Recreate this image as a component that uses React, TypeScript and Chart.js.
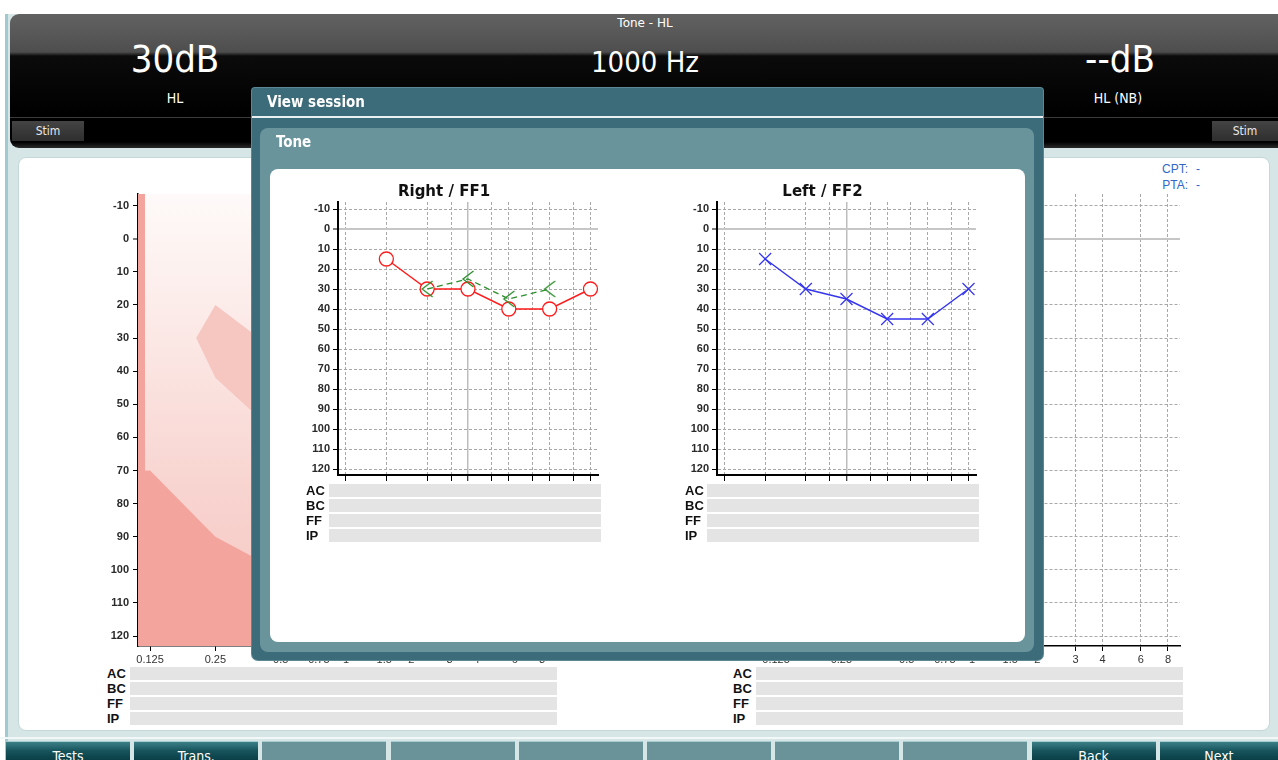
import React, { useEffect, useRef } from "react";
import { Chart, registerables } from "chart.js";
Chart.register(...registerables);

// ---------- data ----------
const FREQS = [125, 250, 500, 750, 1000, 1500, 2000, 3000, 4000, 6000, 8000];
const FREQ_LABELS = ["0.125", "0.25", "0.5", "0.75", "1", "1.5", "2", "3", "4", "6", "8"];
const DB_TICKS = [-10, 0, 10, 20, 30, 40, 50, 60, 70, 80, 90, 100, 110, 120];
const X_MIN = 110;
const X_MAX = 9091;
const Y_MIN = -13.5;
const Y_MAX = 123;

const RIGHT_FF1_FREQS = [250, 500, 1000, 2000, 4000, 8000];
const RIGHT_FF1_DB = [15, 30, 30, 40, 40, 30];
const RIGHT_AIDED_FREQS = [500, 1000, 2000, 4000];
const RIGHT_AIDED_DB = [30, 25, 35, 30];
const LEFT_FF2_FREQS = [250, 500, 1000, 2000, 4000, 8000];
const LEFT_FF2_DB = [15, 30, 35, 45, 45, 30];

const SEVERE_FREQS = [110, 118.5, 118.5, 125, 250, 370, 500, 1000, 2000, 4000, 8000, 9091];
const SEVERE_DB = [-13.5, -13.5, 70, 70, 90, 96, 100, 105, 105, 105, 105, 105];
const BANANA_FREQS = [204, 250, 500, 1000, 2000, 4000, 6000, 6000, 4000, 2000, 1000, 500, 250, 204];
const BANANA_DB = [30, 20, 35, 45, 50, 50, 45, 60, 70, 75, 70, 60, 42, 30];
const SHADE_FREQS = [110, 9091];
const SHADE_DB = [-13.5, -13.5];

const ROW_LABELS = ["AC", "BC", "FF", "IP"];
const BOTTOM_BUTTONS = ["Tests", "Trans.", "", "", "", "", "", "", "Back", "Next"];

// ---------- helpers ----------
const pts = (xs: number[], ys: number[]) => xs.map((x, i) => ({ x, y: ys[i] }));
const UI = '"DejaVu Sans", sans-serif';
const TICK_FONT = { family: '"Liberation Sans", Arial, sans-serif', size: 11, weight: "bold" };

function makeLessThan(color: string) {
  const c = document.createElement("canvas");
  c.width = 14;
  c.height = 18;
  const g = c.getContext("2d")!;
  g.strokeStyle = color;
  g.lineWidth = 1.3;
  g.beginPath();
  g.moveTo(12.5, 1);
  g.lineTo(2, 9);
  g.lineTo(12.5, 17);
  g.stroke();
  return c;
}

function buildScales(o: { xLabels: boolean; yWidth: number; xHeight: number; axisWidth: number; xTickLen: number; yPad: number; z: number }) {
  return {
    x: {
      type: "logarithmic",
      min: X_MIN,
      max: X_MAX,
      z: o.z,
      afterBuildTicks: (s: any) => {
        s.ticks = FREQS.map((v) => ({ value: v }));
      },
      afterFit: (s: any) => {
        s.height = o.xHeight;
      },
      ticks: {
        display: o.xLabels,
        autoSkip: false,
        maxRotation: 0,
        padding: 2,
        color: "#333",
        font: { family: '"Liberation Sans", Arial, sans-serif', size: 11 },
        callback: (_v: any, i: number) => FREQ_LABELS[i],
      },
      grid: {
        color: (c: any) => (c.tick && c.tick.value === 1000 ? "#bdbdbd" : "#a8a8a8"),
        lineWidth: (c: any) => (c.tick && c.tick.value === 1000 ? 1.5 : 1),
        tickColor: "#000",
        tickLength: o.xTickLen,
        tickWidth: 1,
        tickBorderDash: [],
      },
      border: {
        color: "#000",
        width: o.axisWidth,
        dash: (c: any) => (c.tick && c.tick.value === 1000 ? [] : [3, 2]),
      },
    },
    y: {
      type: "linear",
      reverse: true,
      min: Y_MIN,
      max: Y_MAX,
      z: o.z,
      afterBuildTicks: (s: any) => {
        s.ticks = DB_TICKS.map((v) => ({ value: v }));
      },
      afterFit: (s: any) => {
        s.width = o.yWidth;
      },
      ticks: {
        padding: o.yPad,
        color: "#2a2a2a",
        font: TICK_FONT,
        callback: (v: any) => String(v),
      },
      grid: {
        color: (c: any) => (c.tick && c.tick.value === 0 ? "#c6c6c6" : "#a8a8a8"),
        lineWidth: (c: any) => (c.tick && c.tick.value === 0 ? 2 : 1),
        tickColor: "#000",
        tickLength: 5,
        tickWidth: 1,
        tickBorderDash: [],
      },
      border: {
        color: "#000",
        width: o.axisWidth,
        dash: (c: any) => (c.tick && c.tick.value === 0 ? [] : [3, 2]),
      },
    },
  };
}

const baseOptions = {
  responsive: false,
  animation: false,
  devicePixelRatio: 1,
  events: [],
};

function modalConfig(title: string, datasets: any[], rightPad: number) {
  return {
    type: "line",
    data: { datasets },
    options: {
      ...baseOptions,
      layout: { padding: { left: 0, right: rightPad, top: 0, bottom: 0 } },
      elements: { line: { tension: 0 } },
      plugins: {
        legend: { display: false },
        tooltip: { enabled: false },
        title: {
          display: true,
          text: title,
          color: "#111",
          font: { family: "DejaVu Sans", size: 15, weight: "bold" },
          padding: { top: 6, bottom: 1 },
        },
      },
      scales: buildScales({ xLabels: false, yWidth: 48, xHeight: 10, axisWidth: 2, xTickLen: 6, yPad: 3, z: 0 }),
    },
  };
}

function backgroundConfig(datasets: any[]) {
  return {
    type: "line",
    data: { datasets },
    options: {
      ...baseOptions,
      layout: { padding: { left: 0, right: 14, top: 12, bottom: 0 } },
      elements: { line: { tension: 0 } },
      plugins: { legend: { display: false }, tooltip: { enabled: false }, title: { display: false } },
      scales: buildScales({ xLabels: true, yWidth: 50, xHeight: 20, axisWidth: 1.5, xTickLen: 5, yPad: 4, z: 1 }),
    },
  };
}

function rightEarDatasets() {
  return [
    {
      data: pts(RIGHT_AIDED_FREQS, RIGHT_AIDED_DB),
      borderColor: "#2b8f2b",
      borderWidth: 1.3,
      borderDash: [6, 4],
      pointStyle: makeLessThan("#2b8f2b"),
      pointRadius: 8,
      fill: false,
      clip: false,
    },
    {
      data: pts(RIGHT_FF1_FREQS, RIGHT_FF1_DB),
      borderColor: "#ff1a1a",
      borderWidth: 1.4,
      pointStyle: "circle",
      pointRadius: 7,
      pointBorderWidth: 1.3,
      pointBorderColor: "#ff1a1a",
      pointBackgroundColor: "#ffffff",
      fill: false,
      clip: false,
    },
  ];
}

function leftEarDatasets() {
  return [
    {
      data: pts(LEFT_FF2_FREQS, LEFT_FF2_DB),
      borderColor: "#3535ee",
      borderWidth: 1.4,
      pointStyle: "crossRot",
      pointRadius: 8.5,
      pointBorderWidth: 1.2,
      pointBorderColor: "#3535ee",
      fill: false,
      clip: false,
    },
  ];
}

function shadingDatasets() {
  return [
    {
      data: pts(SEVERE_FREQS, SEVERE_DB),
      borderWidth: 0,
      pointRadius: 0,
      backgroundColor: "#f3a59d",
      fill: "start",
    },
    {
      data: pts(BANANA_FREQS, BANANA_DB),
      borderWidth: 0,
      pointRadius: 0,
      backgroundColor: "#f6c6c1",
      fill: "shape",
    },
    {
      data: pts(SHADE_FREQS, SHADE_DB),
      borderWidth: 0,
      pointRadius: 0,
      fill: "start",
      backgroundColor: (ctx: any) => {
        const a = ctx.chart.chartArea;
        if (!a) return "#fae4e1";
        const g = ctx.chart.ctx.createLinearGradient(0, a.top, 0, a.bottom);
        g.addColorStop(0, "#fefaf9");
        g.addColorStop(0.35, "#fbe6e3");
        g.addColorStop(0.65, "#f8d4d0");
        g.addColorStop(1, "#f5c6c1");
        return g;
      },
    },
  ];
}

function ChartBox(props: { left: number; top: number; width: number; height: number; make: () => any }) {
  const ref = useRef<HTMLCanvasElement | null>(null);
  useEffect(() => {
    const chart = new Chart(ref.current as HTMLCanvasElement, props.make());
    return () => chart.destroy();
  }, []);
  return (
    <div style={{ position: "absolute", left: props.left, top: props.top, width: props.width, height: props.height }}>
      <canvas ref={ref} width={props.width} height={props.height} style={{ display: "block", width: props.width, height: props.height }} />
    </div>
  );
}

function Rows(props: { labelLeft: number; barLeft: number; barRight: number; top: number; pitch: number; barH: number }) {
  return (
    <>
      {ROW_LABELS.map((l, i) => (
        <React.Fragment key={l}>
          <div
            style={{
              position: "absolute",
              left: props.labelLeft,
              top: props.top + i * props.pitch - 1,
              height: props.barH + 2,
              lineHeight: props.barH + 2 + "px",
              fontFamily: '"Liberation Sans", Arial, sans-serif',
              fontWeight: "bold",
              fontSize: 13,
              color: "#111",
            }}
          >
            {l}
          </div>
          <div
            style={{
              position: "absolute",
              left: props.barLeft,
              top: props.top + i * props.pitch,
              width: props.barRight - props.barLeft,
              height: props.barH,
              background: "#e4e4e4",
            }}
          />
        </React.Fragment>
      ))}
    </>
  );
}

const abs = (o: any) => ({ position: "absolute" as const, ...o });
const COND = '"Liberation Sans Narrow", "DejaVu Sans Condensed", sans-serif';

export default function App() {
  return (
    <div style={{ position: "fixed", left: 0, top: 0, width: 1278, height: 760, overflow: "hidden", background: "#fff", fontFamily: UI }}>
      {/* application background */}
      <div style={abs({ left: 5, top: 14, width: 1273, height: 746, background: "#d6e6e7", borderLeft: "3px solid #9fcbd0" })} />
      {/* header */}
      <div
        style={abs({
          left: 10,
          top: 14,
          width: 1268,
          height: 134,
          borderRadius: "9px 0 0 9px",
          background: "linear-gradient(180deg, #626262 0px, #4e4e4e 38px, #0b0b0b 42px, #000 100px, #000 128px, #2a2a2a 134px)",
        })}
      />
      <div style={abs({ left: 10, top: 117, width: 1268, height: 1, background: "#3a3a3a" })} />
      <div style={abs({ left: 560, top: 16, width: 170, textAlign: "center", color: "#fff", fontSize: 12 })}>Tone - HL</div>
      <div style={abs({ left: 75, top: 36, width: 200, textAlign: "center", color: "#fff", fontSize: 38, fontFamily: COND, lineHeight: "46px" })}>30dB</div>
      <div style={abs({ left: 525, top: 43, width: 240, textAlign: "center", color: "#fff", fontSize: 29, fontFamily: COND, lineHeight: "38px" })}>1000 Hz</div>
      <div style={abs({ left: 1020, top: 36, width: 200, textAlign: "center", color: "#fff", fontSize: 38, fontFamily: COND, lineHeight: "46px" })}>--dB</div>
      <div style={abs({ left: 125, top: 90, width: 100, textAlign: "center", color: "#fff", fontSize: 14, fontFamily: '"DejaVu Sans Condensed", sans-serif' })}>HL</div>
      <div style={abs({ left: 1060, top: 90, width: 116, textAlign: "center", color: "#fff", fontSize: 14, fontFamily: '"DejaVu Sans Condensed", sans-serif' })}>HL (NB)</div>
      <div style={abs({ left: 12, top: 121, width: 72, height: 20, background: "linear-gradient(#444, #2e2e2e)", color: "#e8e8e8", fontSize: 12, lineHeight: "20px", textAlign: "center", fontFamily: '"DejaVu Sans Condensed", sans-serif' })}>Stim</div>
      <div style={abs({ left: 1212, top: 121, width: 66, height: 20, background: "linear-gradient(#444, #2e2e2e)", color: "#e8e8e8", fontSize: 12, lineHeight: "20px", textAlign: "center", fontFamily: '"DejaVu Sans Condensed", sans-serif' })}>Stim</div>

      {/* white work panel */}
      <div style={abs({ left: 18, top: 157, width: 1250, height: 572, background: "#fff", borderRadius: 8, border: "1px solid #c5d8d9" })} />
      <div style={abs({ left: 1140, top: 161, width: 48, textAlign: "right", color: "#3068c8", fontSize: 12, lineHeight: "16px", fontFamily: '"Liberation Sans", Arial, sans-serif' })}>
        CPT:
        <br />
        PTA:
      </div>
      <div style={abs({ left: 1196, top: 161, width: 10, color: "#3068c8", fontSize: 12, lineHeight: "16px", fontFamily: '"Liberation Sans", Arial, sans-serif' })}>
        -
        <br />-
      </div>

      {/* background audiograms */}
      <ChartBox left={88} top={182} width={480} height={484} make={() => backgroundConfig(shadingDatasets())} />
      <ChartBox left={714} top={182} width={480} height={484} make={() => backgroundConfig([])} />
      <Rows labelLeft={107} barLeft={130} barRight={557} top={667} pitch={15} barH={13} />
      <Rows labelLeft={733} barLeft={756} barRight={1183} top={667} pitch={15} barH={13} />

      {/* bottom buttons */}
      <div style={abs({ left: 0, top: 737, width: 1278, height: 2, background: "#f2f8f8" })} />
      {BOTTOM_BUTTONS.map((b, i) => {
        const left = 6 + i * 128.2;
        const dark = b !== "";
        return (
          <div
            key={i}
            style={abs({
              left,
              top: 741,
              width: i === 9 ? 1278 - left : 124,
              height: 22,
              background: dark ? "linear-gradient(#3d8088 0px, #16535b 9px, #05363d 22px)" : "#6a9399",
              borderTop: "1px solid #a8cdd0",
              color: "#fff",
              fontSize: 14,
              textAlign: "center",
              lineHeight: "28px",
              fontFamily: '"DejaVu Sans Condensed", sans-serif',
            })}
          >
            {b}
          </div>
        );
      })}

      {/* modal */}
      <div style={abs({ left: 252, top: 88, width: 791, height: 572, background: "#3c6c79", borderRadius: "3px 3px 6px 6px", boxShadow: "0 0 0 1px #5b8893" })} />
      <div style={abs({ left: 267, top: 91, color: "#fff", fontSize: 15, fontWeight: "bold", lineHeight: "22px", fontFamily: '"DejaVu Sans Condensed", "DejaVu Sans", sans-serif' })}>View session</div>
      <div style={abs({ left: 252, top: 116, width: 791, height: 2, background: "#e8f0f1" })} />
      <div style={abs({ left: 260, top: 128, width: 774, height: 524, background: "#6a949b", borderRadius: 8 })} />
      <div style={abs({ left: 276, top: 132, color: "#fff", fontSize: 15, fontWeight: "bold", lineHeight: "20px", fontFamily: '"DejaVu Sans Condensed", "DejaVu Sans", sans-serif' })}>Tone</div>
      <div style={abs({ left: 270, top: 169, width: 755, height: 473, background: "#fff", borderRadius: 8 })} />

      <ChartBox left={290} top={177} width={331} height={308} make={() => modalConfig("Right / FF1", rightEarDatasets(), 23)} />
      <ChartBox left={669} top={177} width={334} height={308} make={() => modalConfig("Left / FF2", leftEarDatasets(), 27)} />
      <Rows labelLeft={306} barLeft={329} barRight={601} top={484} pitch={15} barH={13} />
      <Rows labelLeft={685} barLeft={707} barRight={979} top={484} pitch={15} barH={13} />
    </div>
  );
}
